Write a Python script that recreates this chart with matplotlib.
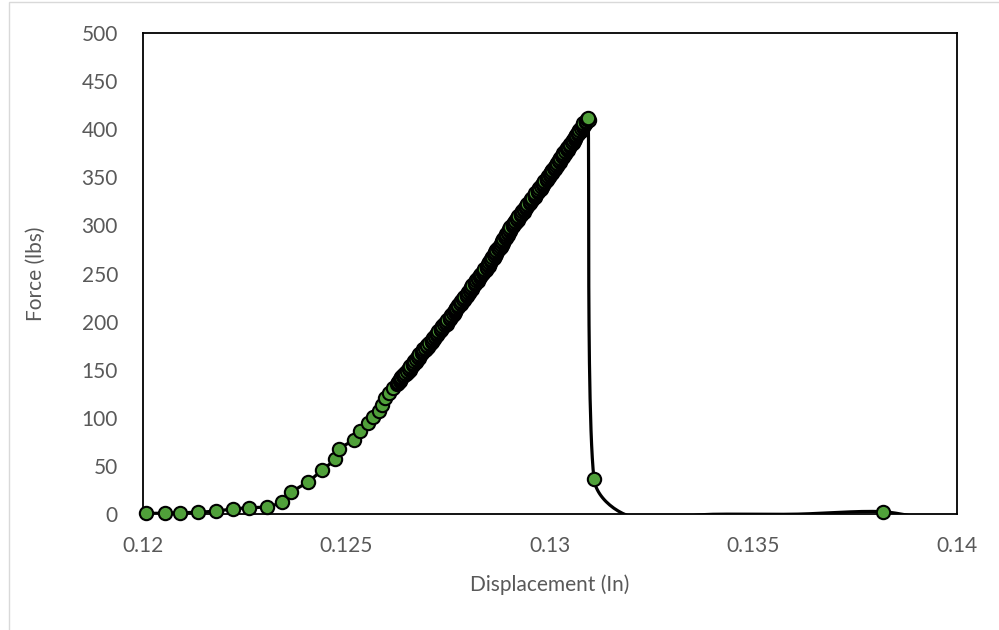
import numpy as np
import matplotlib
matplotlib.use("Agg")
import matplotlib.pyplot as plt
from matplotlib.patches import Rectangle

# ---- data (displacement in inches, force in lbs) ----
disp_ramp = [0.12007, 0.12054, 0.12091, 0.12134, 0.12179, 0.12220, 0.12260, 0.12304,
             0.12341, 0.12364, 0.12406, 0.12440, 0.12472, 0.12482, 0.12518, 0.12533,
             0.12552, 0.12566, 0.12580, 0.12587, 0.12595, 0.12605, 0.12615, 0.12623]
force_ramp = [0.7, 0.7, 1.4, 1.8, 3.1, 5.2, 6.5, 7.5,
              12.5, 22.5, 33.6, 45.7, 57.0, 67.6, 77.0, 86.6,
              94.3, 101.2, 107.5, 113.4, 120.4, 125.5, 130.7, 135.0]

# dense, nearly linear loading region (one reading per ~1 lb)
disp_linear = [
    0.12627, 0.12626, 0.12632, 0.12631, 0.12631, 0.12635, 0.12633, 0.12640, 0.12640, 0.12641,
    0.12647, 0.12644, 0.12650, 0.12649, 0.12655, 0.12653, 0.12653, 0.12658, 0.12656, 0.12663,
    0.12663, 0.12664, 0.12670, 0.12667, 0.12673, 0.12671, 0.12677, 0.12676, 0.12676, 0.12681,
    0.12679, 0.12686, 0.12686, 0.12687, 0.12693, 0.12689, 0.12695, 0.12694, 0.12700, 0.12699,
    0.12699, 0.12704, 0.12702, 0.12709, 0.12709, 0.12709, 0.12715, 0.12712, 0.12718, 0.12717,
    0.12723, 0.12722, 0.12722, 0.12727, 0.12725, 0.12731, 0.12731, 0.12732, 0.12738, 0.12735,
    0.12741, 0.12740, 0.12746, 0.12745, 0.12745, 0.12749, 0.12747, 0.12754, 0.12754,
    0.12755, 0.12760, 0.12757, 0.12763, 0.12762, 0.12767, 0.12766, 0.12766, 0.12770, 0.12768,
    0.12775, 0.12775, 0.12775, 0.12781, 0.12778, 0.12783, 0.12782, 0.12788, 0.12787, 0.12786,
    0.12791, 0.12789, 0.12795, 0.12795, 0.12796, 0.12802, 0.12798, 0.12804, 0.12803, 0.12808,
    0.12807, 0.12807, 0.12811, 0.12809, 0.12816, 0.12816, 0.12816, 0.12822, 0.12819, 0.12824,
    0.12823, 0.12829, 0.12828, 0.12827, 0.12832, 0.12830, 0.12836, 0.12836, 0.12837, 0.12843,
    0.12839, 0.12845, 0.12844, 0.12849, 0.12848, 0.12848, 0.12853, 0.12850,
    0.12856, 0.12856, 0.12856, 0.12862, 0.12858, 0.12864, 0.12862, 0.12868, 0.12866, 0.12865,
    0.12870, 0.12867, 0.12874, 0.12873, 0.12874, 0.12879, 0.12876, 0.12881, 0.12879, 0.12885,
    0.12883, 0.12883, 0.12887, 0.12885, 0.12891, 0.12890, 0.12891, 0.12896, 0.12893, 0.12898,
    0.12897, 0.12902, 0.12901, 0.12900, 0.12904, 0.12902, 0.12908, 0.12908, 0.12908,
    0.12914, 0.12911, 0.12916, 0.12915, 0.12921, 0.12920, 0.12919, 0.12924, 0.12922, 0.12929,
    0.12928, 0.12929, 0.12935, 0.12932, 0.12937, 0.12936, 0.12942, 0.12941, 0.12940, 0.12945,
    0.12943, 0.12950, 0.12950, 0.12950, 0.12956, 0.12953, 0.12959, 0.12957, 0.12963, 0.12962,
    0.12962, 0.12966, 0.12964, 0.12971, 0.12971, 0.12971, 0.12977, 0.12974, 0.12980, 0.12978,
    0.12984, 0.12983, 0.12983, 0.12987, 0.12985, 0.12992, 0.12992, 0.12993, 0.12998,
    0.12995, 0.13000, 0.12999, 0.13004, 0.13003, 0.13003, 0.13007, 0.13005, 0.13012, 0.13011,
    0.13012, 0.13017, 0.13014, 0.13020, 0.13018, 0.13024, 0.13022, 0.13022, 0.13027, 0.13024,
    0.13031, 0.13030, 0.13031, 0.13037, 0.13033, 0.13039, 0.13037, 0.13043, 0.13042, 0.13041,
    0.13046, 0.13044, 0.13050, 0.13050, 0.13050, 0.13056, 0.13053, 0.13058, 0.13057, 0.13062,
    0.13061, 0.13061, 0.13065, 0.13063, 0.13069, 0.13069, 0.13070, 0.13075, 0.13072, 0.13078,
    0.13076, 0.13082, 0.13080, 0.13080, 0.13085, 0.13082, 0.13089, 0.13088, 0.13089, 0.13095,
    0.13091, 0.13094]
force_linear = [
    136, 137, 138, 139, 140, 141, 142, 143, 144, 145,
    146, 147, 148, 149, 150, 151, 152, 153, 154, 155,
    156, 157, 158, 159, 160, 161, 162, 163, 164, 165,
    166, 167, 168, 169, 170, 171, 172, 173, 174, 175,
    176, 177, 178, 179, 180, 181, 182, 183, 184, 185,
    186, 187, 188, 189, 190, 191, 192, 193, 194, 195,
    196, 197, 198, 199, 200, 201, 202, 203, 204,
    205, 206, 207, 208, 209, 210, 211, 212, 213, 214,
    215, 216, 217, 218, 219, 220, 221, 222, 223, 224,
    225, 226, 227, 228, 229, 230, 231, 232, 233, 234,
    235, 236, 237, 238, 239, 240, 241, 242, 243, 244,
    245, 246, 247, 248, 249, 250, 251, 252, 253, 254,
    255, 256, 257, 258, 259, 260, 261, 262,
    263, 264, 265, 266, 267, 268, 269, 270, 271, 272,
    273, 274, 275, 276, 277, 278, 279, 280, 281, 282,
    283, 284, 285, 286, 287, 288, 289, 290, 291, 292,
    293, 294, 295, 296, 297, 298, 299, 300, 301,
    302, 303, 304, 305, 306, 307, 308, 309, 310, 311,
    312, 313, 314, 315, 316, 317, 318, 319, 320, 321,
    322, 323, 324, 325, 326, 327, 328, 329, 330, 331,
    332, 333, 334, 335, 336, 337, 338, 339, 340, 341,
    342, 343, 344, 345, 346, 347, 348, 349, 350,
    351, 352, 353, 354, 355, 356, 357, 358, 359, 360,
    361, 362, 363, 364, 365, 366, 367, 368, 369, 370,
    371, 372, 373, 374, 375, 376, 377, 378, 379, 380,
    381, 382, 383, 384, 385, 386, 387, 388, 389, 390,
    391, 392, 393, 394, 395, 396, 397, 398, 399, 400,
    401, 402, 403, 404, 405, 406, 407, 408, 409, 410,
    411, 411.3]

# failure and post-failure readings (negative readings fall below the axis)
disp_failure = [0.13108, 0.13200, 0.13400, 0.13600, 0.13817, 0.13950]
force_failure = [36.7, -3.0, -0.3, -0.2, 2.4, -8.0]

disp = np.array(disp_ramp + disp_linear + disp_failure)
force = np.array(force_ramp + force_linear + force_failure, dtype=float)

x_ticks = [0.12, 0.125, 0.13, 0.135, 0.14]
x_ticklabels = ["0.12", "0.125", "0.13", "0.135", "0.14"]
y_ticks = [0, 50, 100, 150, 200, 250, 300, 350, 400, 450, 500]

GREEN = "#50A03A"
GRAY = "#595959"

plt.rcParams['font.family'] = ['Lato', 'DejaVu Sans']

fig = plt.figure(figsize=(9.99, 6.30), dpi=100)
fig.patches.append(Rectangle((9 / 999, -0.05), 1.1, 1.05 - 2 / 630, transform=fig.transFigure,
                             fill=False, edgecolor="#D9D9D9", linewidth=1.0))
ax = fig.add_axes([143 / 999, 1 - 514 / 630, (957 - 143) / 999, (514 - 33) / 630])
ax.set_xlim(0.12, 0.14)
ax.set_ylim(0, 500)


def smooth_curve(xs, ys, ax, n=24):
    # Bezier smoothing computed in display (pixel) space, like a spreadsheet "smoothed line"
    pts = ax.transData.transform(np.column_stack([xs, ys]))
    out = [pts[0]]
    m = len(pts)
    for i in range(m - 1):
        p0 = pts[max(i - 1, 0)]
        p1 = pts[i]
        p2 = pts[i + 1]
        p3 = pts[min(i + 2, m - 1)]
        seg = np.linalg.norm(p2 - p1)
        d1 = (p2 - p0) / 6.0
        d2 = (p3 - p1) / 6.0
        cap = seg / 3.0
        if np.linalg.norm(d1) > cap:
            d1 = d1 / np.linalg.norm(d1) * cap
        if np.linalg.norm(d2) > cap:
            d2 = d2 / np.linalg.norm(d2) * cap
        c1 = p1 + d1
        c2 = p2 - d2
        t = np.linspace(0, 1, n)[1:, None]
        b = ((1 - t) ** 3) * p1 + 3 * ((1 - t) ** 2) * t * c1 + 3 * (1 - t) * t ** 2 * c2 + t ** 3 * p2
        out.extend(b)
    out = np.array(out)
    return ax.transData.inverted().transform(out)


curve = smooth_curve(disp, force, ax)
ax.plot(curve[:, 0], curve[:, 1], color="black", linewidth=2.3, solid_capstyle="round", zorder=2)

vis = force >= 0
ax.plot(disp[vis], force[vis], linestyle="none", marker="o", markersize=9.6,
        markerfacecolor=GREEN, markeredgecolor="black", markeredgewidth=1.5,
        clip_on=False, zorder=3)

for s in ax.spines.values():
    s.set_color("black")
    s.set_linewidth(1.3)
    s.set_zorder(2.5)

ax.set_xticks(x_ticks)
ax.set_xticklabels(x_ticklabels)
ax.set_yticks(y_ticks)
ax.tick_params(axis="both", length=0, labelsize=15, labelcolor=GRAY)
ax.tick_params(axis="x", pad=16)
ax.tick_params(axis="y", pad=18)

ax.set_xlabel("Displacement (In)", fontsize=15, color=GRAY, labelpad=13)
ax.set_ylabel("Force (lbs)", fontsize=15, color=GRAY, labelpad=26)

fig.savefig("out.png", dpi=100)
